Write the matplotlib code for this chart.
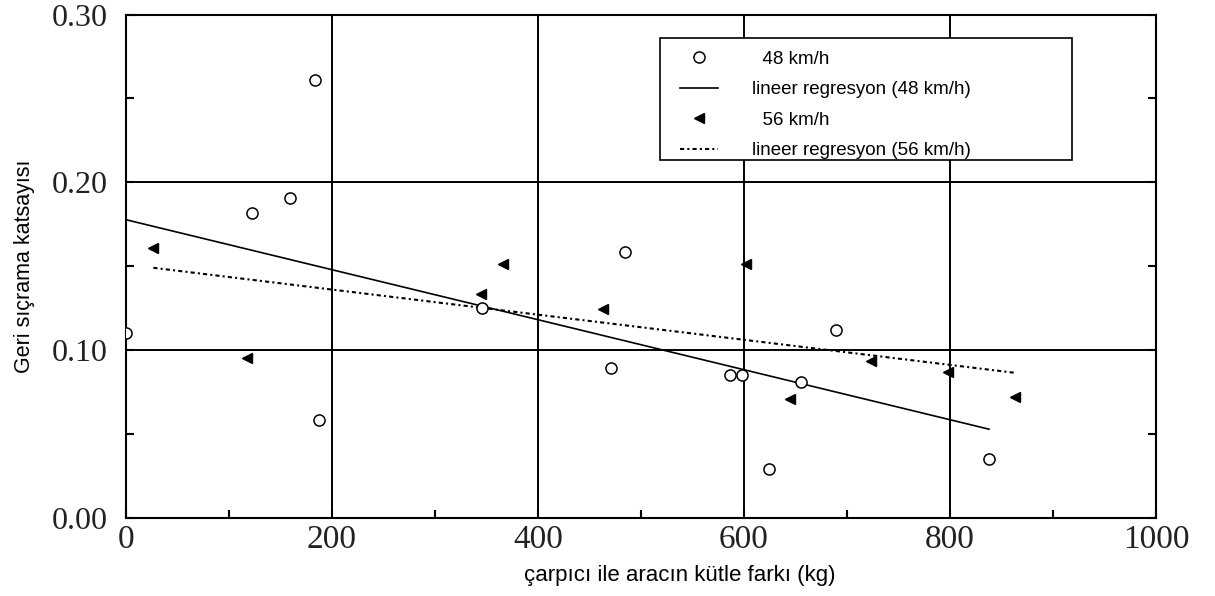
import numpy as np
import matplotlib.pyplot as plt
from matplotlib.patches import Rectangle
from matplotlib.ticker import MultipleLocator, FormatStrFormatter

# kütle farkı (kg) ve geri sıçrama katsayısı, 48 km/h
x48 = [0, 122.6, 159.5, 183.8, 187.7, 345.6, 471, 484.8, 586.7, 598, 624.6, 655.3, 689.6, 837.9]
y48 = [0.110, 0.1817, 0.1906, 0.261, 0.058, 0.1252, 0.0891, 0.1583, 0.0851, 0.0851, 0.0292, 0.0811, 0.1119, 0.035]

# 56 km/h
x56 = [26.8, 117.5, 344.7, 366.6, 462.8, 602, 644.3, 723.3, 798.6, 862.7]
y56 = [0.161, 0.095, 0.1332, 0.1513, 0.1243, 0.1513, 0.0708, 0.0934, 0.0871, 0.0722]

xticks = [0, 200, 400, 600, 800, 1000]
yticks = [0.0, 0.1, 0.2, 0.3]

fig = plt.figure(figsize=(12.15, 5.96), dpi=100)
ax = fig.add_axes([0.1035, 0.1314, 0.8479, 0.8441])

# lineer regresyon
b48 = np.polyfit(x48, y48, 1)
b56 = np.polyfit(x56, y56, 1)
xr48 = np.array([min(x48), max(x48)])
xr56 = np.array([min(x56), max(x56)])

ax.plot(x48, y48, 'o', mfc='white', mec='black', ms=8, mew=1.1, label='  48 km/h', zorder=4)
ax.plot(xr48, np.polyval(b48, xr48), '-', color='black', lw=1.2,
        label='lineer regresyon (48 km/h)', zorder=3)
ax.plot(x56, y56, '<', color='black', ms=7, label='  56 km/h', zorder=4)
ax.plot(xr56, np.polyval(b56, xr56), color='black', lw=1.5, dashes=(2, 1.5, 1, 1.5),
        label='lineer regresyon (56 km/h)', zorder=3)

ax.set_xlim(0, 1000)
ax.set_ylim(0, 0.30)
ax.set_xticks(xticks)
ax.set_yticks(yticks)
ax.xaxis.set_minor_locator(MultipleLocator(100))
ax.yaxis.set_minor_locator(MultipleLocator(0.05))
ax.yaxis.set_major_formatter(FormatStrFormatter('%.2f'))
ax.grid(True, which='major', color='black', lw=1.4)
ax.tick_params(which='both', direction='in', left=True, right=True, bottom=True, top=False,
               width=1.5, length=6, labelcolor='#222222')
ax.tick_params(axis='x', pad=5)
ax.tick_params(axis='y', pad=13)
for spine in ax.spines.values():
    spine.set_linewidth(1.5)
for lab in ax.get_xticklabels():
    lab.set_family('Liberation Serif')
    lab.set_fontsize(24)
for lab in ax.get_yticklabels():
    lab.set_family('Liberation Serif')
    lab.set_fontsize(23)

ax.set_xlabel('çarpıcı ile aracın kütle farkı (kg)', family='Liberation Sans', fontsize=16)
ax.xaxis.set_label_coords(0.538, -0.094)
ax.set_ylabel('Geri sıçrama katsayısı', family='Liberation Sans', fontsize=15.5, labelpad=12)

# lejant kutusu ayrı çiziliyor, içerik biraz sağa kaydırılmış
ax.add_patch(Rectangle((0.5186, 0.711), 0.4, 0.2425, transform=ax.transAxes,
                       facecolor='white', edgecolor='black', lw=1.2, zorder=5))
leg = ax.legend(loc='upper left', bbox_to_anchor=(0.533, 0.94), frameon=False,
                prop={'family': 'Liberation Sans', 'size': 13.5},
                handlelength=2.0, handletextpad=1.8,
                labelspacing=0.72, borderpad=0.3, borderaxespad=0)
leg.set_zorder(6)

fig.savefig('out.png', dpi=100)
